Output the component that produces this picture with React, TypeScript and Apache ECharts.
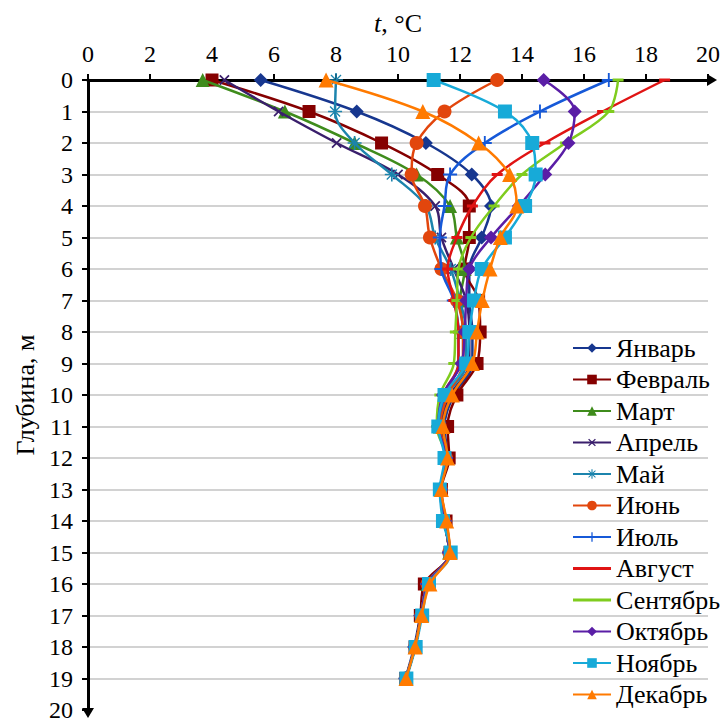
import React, { useEffect, useRef } from "react";
import * as echarts from "echarts";

const depths = [0, 1, 2, 3, 4, 5, 6, 7, 8, 9, 10, 11, 12, 13, 14, 15, 16, 17, 18, 19];
const xTicks = [0, 2, 4, 6, 8, 10, 12, 14, 16, 18, 20];

const months = ["Январь", "Февраль", "Март", "Апрель", "Май", "Июнь", "Июль", "Август", "Сентябрь", "Октябрь", "Ноябрь", "Декабрь"];

const jan = [5.57, 8.67, 10.9, 12.38, 13.0, 12.7, 12.3, 12.3, 12.4, 12.4, 11.8, 11.5, 11.6, 11.35, 11.5, 11.65, 10.9, 10.72, 10.52, 10.24];
const feb = [4.0, 7.13, 9.47, 11.28, 12.3, 12.3, 12.15, 12.6, 12.65, 12.55, 11.9, 11.6, 11.65, 11.4, 11.55, 11.68, 10.85, 10.72, 10.55, 10.25];
const mar = [3.7, 6.35, 8.6, 10.6, 11.68, 11.9, 12.15, 12.0, 12.1, 12.1, 11.6, 11.35, 11.55, 11.38, 11.5, 11.65, 10.95, 10.75, 10.55, 10.25];
const apr = [4.4, 6.15, 8.02, 10.0, 11.2, 11.4, 11.8, 12.2, 12.3, 12.3, 11.7, 11.4, 11.55, 11.38, 11.5, 11.65, 10.95, 10.75, 10.55, 10.25];
const may = [8.0, 7.97, 8.6, 9.8, 10.9, 11.2, 11.7, 12.0, 12.2, 12.2, 11.6, 11.3, 11.55, 11.38, 11.5, 11.65, 10.95, 10.75, 10.55, 10.25];
const jun = [13.2, 11.5, 10.6, 10.44, 10.87, 11.03, 11.4, 11.9, 12.1, 12.1, 11.6, 11.35, 11.55, 11.38, 11.5, 11.65, 10.95, 10.75, 10.55, 10.25];
const jul = [16.8, 14.58, 12.8, 11.68, 11.5, 11.35, 11.4, 11.8, 11.95, 11.95, 11.5, 11.3, 11.55, 11.38, 11.5, 11.65, 10.95, 10.75, 10.55, 10.25];
const aug = [18.6, 16.6, 14.74, 13.2, 12.4, 11.9, 11.6, 11.8, 11.95, 11.95, 11.45, 11.3, 11.55, 11.38, 11.5, 11.65, 10.95, 10.75, 10.55, 10.25];
const sep = [17.1, 16.8, 15.4, 14.0, 13.1, 12.35, 11.95, 11.9, 11.85, 11.8, 11.35, 11.25, 11.55, 11.38, 11.5, 11.65, 10.95, 10.75, 10.55, 10.25];
const oct = [14.7, 15.7, 15.5, 14.75, 13.9, 13.0, 12.3, 12.2, 12.15, 12.05, 11.45, 11.3, 11.55, 11.38, 11.5, 11.65, 10.95, 10.75, 10.55, 10.25];
const nov = [11.15, 13.45, 14.33, 14.44, 14.1, 13.45, 12.7, 12.45, 12.3, 12.2, 11.5, 11.3, 11.5, 11.35, 11.45, 11.7, 11.0, 10.78, 10.57, 10.27];
const dec = [7.68, 10.8, 12.6, 13.6, 13.83, 13.3, 12.97, 12.72, 12.55, 12.4, 11.75, 11.45, 11.6, 11.4, 11.57, 11.68, 11.03, 10.76, 10.55, 10.26];

const values = [jan, feb, mar, apr, may, jun, jul, aug, sep, oct, nov, dec];

const FONT = "Liberation Serif";

const PLUS = "path://M-0.8,-6L0.8,-6L0.8,-0.8L6,-0.8L6,0.8L0.8,0.8L0.8,6L-0.8,6L-0.8,0.8L-6,0.8L-6,-0.8L-0.8,-0.8Z";
const ASTER =
  "path://M-0.7,-6L0.7,-6L0.7,6L-0.7,6Z M-6,-0.7L6,-0.7L6,0.7L-6,0.7Z M-4.7,-3.9L3.9,4.7L4.7,3.9L-3.9,-4.7Z M-4.7,3.9L3.9,-4.7L4.7,-3.9L-3.9,4.7Z";
const LINE_ICON = "path://M0,0L38,0L38,0.01Z M0,4.6L38,4.6L38,7.4L0,7.4Z M0,12L38,12L38,11.99Z";

const styles: { color: string; symbol: string; size: any; rotate?: number; lineOnlyLegend?: boolean }[] = [
  { color: "#17378f", symbol: "diamond", size: 14 },
  { color: "#850000", symbol: "rect", size: 13 },
  { color: "#3f8c1c", symbol: "triangle", size: 14 },
  { color: "#3a1f6c", symbol: PLUS, size: 13, rotate: 45 },
  { color: "#1c84ad", symbol: ASTER, size: 14 },
  { color: "#e2460d", symbol: "circle", size: 14 },
  { color: "#1659d8", symbol: PLUS, size: 14 },
  { color: "#e01414", symbol: "rect", size: [11, 3], lineOnlyLegend: true },
  { color: "#7fcc1e", symbol: "rect", size: [11, 3], lineOnlyLegend: true },
  { color: "#5a1ea6", symbol: "diamond", size: 14 },
  { color: "#17aad8", symbol: "rect", size: 14 },
  { color: "#ff7a00", symbol: "triangle", size: 15 },
];

const GL = 88, GT = 80, GW = 621, GH = 630;

export default function App() {
  const ref = useRef<HTMLDivElement>(null);
  useEffect(() => {
    document.body.style.margin = "0";
    const chart = echarts.init(ref.current!, null, { renderer: "svg" });
    const series = months.map((m, i) => ({
      name: m,
      type: "line",
      smooth: 0.35,
      data: values[i].map((t, k) => [t, depths[k]]),
      color: styles[i].color,
      lineStyle: { width: 2.5, color: styles[i].color },
      itemStyle: { color: styles[i].color },
      symbol: styles[i].symbol,
      symbolSize: styles[i].size,
      symbolRotate: styles[i].rotate || 0,
      showSymbol: true,
      z: 2 + i,
    }));
    const legendData = months.map((m, i) => (styles[i].lineOnlyLegend ? { name: m, icon: LINE_ICON } : { name: m }));
    const R = GL + GW, B = GT + GH;
    chart.setOption({
      animation: false,
      backgroundColor: "#fff",
      grid: { left: GL, top: GT, width: GW, height: GH, containLabel: false },
      graphic: [
        { type: "polygon", z: 100, shape: { points: [[R - 2, GT - 6], [R + 8, GT], [R - 2, GT + 6]] }, style: { fill: "#000" } },
        { type: "polygon", z: 100, shape: { points: [[GL - 6, B - 2], [GL, B + 8], [GL + 6, B - 2]] }, style: { fill: "#000" } },
      ],
      xAxis: {
        type: "value",
        position: "top",
        min: 0,
        max: 20,
        interval: 2,
        name: "{i|t}, °C",
        nameLocation: "middle",
        nameGap: 44,
        nameTextStyle: { fontFamily: FONT, fontSize: 26, color: "#000", rich: { i: { fontFamily: FONT, fontSize: 26, color: "#000", fontStyle: "italic" } } },
        axisLine: { show: true, lineStyle: { color: "#000", width: 3 } },
        axisTick: { show: true, inside: false, length: 6, lineStyle: { color: "#000", width: 2 } },
        axisLabel: { fontFamily: FONT, fontSize: 24, color: "#000", margin: 14, formatter: (v: number) => (xTicks.includes(v) ? String(v) : "") },
        splitLine: { show: false },
      },
      yAxis: {
        type: "value",
        inverse: true,
        min: 0,
        max: 20,
        interval: 1,
        name: "Глубина, м",
        nameLocation: "middle",
        nameGap: 47,
        nameRotate: 90,
        nameTextStyle: { fontFamily: FONT, fontSize: 26, color: "#000" },
        axisLine: { show: true, lineStyle: { color: "#000", width: 3 } },
        axisTick: { show: true, inside: false, length: 6, lineStyle: { color: "#000", width: 2 } },
        axisLabel: { fontFamily: FONT, fontSize: 24, color: "#000", margin: 15 },
        splitLine: { show: true, showMinLine: false, showMaxLine: false, lineStyle: { color: "#c3c3c3", width: 1.5 } },
      },
      legend: {
        orient: "vertical",
        left: 567,
        top: 330,
        itemWidth: 38,
        itemHeight: 12,
        itemGap: 5.5,
        textStyle: { fontFamily: FONT, fontSize: 26, color: "#000", lineHeight: 26 },
        data: legendData,
      },
      series,
    });
    return () => chart.dispose();
  }, []);
  return <div ref={ref} style={{ position: "fixed", left: 0, top: 0, width: 723, height: 722 }} />;
}
